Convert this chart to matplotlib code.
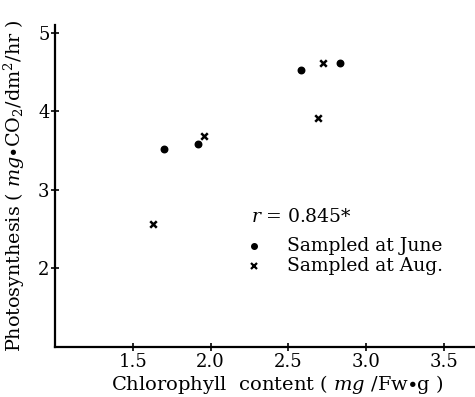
import matplotlib
matplotlib.use("Agg")
import matplotlib.pyplot as plt

# chlorophyll (mg/Fw g) vs photosynthesis (mg CO2/dm2/hr)
june_x = [1.70, 1.92, 2.58, 2.83]
june_y = [3.52, 3.59, 4.53, 4.61]
aug_x = [1.63, 1.96, 2.69, 2.72]
aug_y = [2.56, 3.69, 3.92, 4.62]

xticks = [1.5, 2.0, 2.5, 3.0, 3.5]
yticks = [2, 3, 4, 5]

plt.rcParams['font.family'] = ['DejaVu Serif']
plt.rcParams['mathtext.fontset'] = 'dejavuserif'

fig = plt.figure(figsize=(4.75, 3.97), dpi=100)
ax = fig.add_axes([0.116, 0.126, 0.884, 0.811])

ax.scatter(june_x, june_y, marker='o', s=22, color='black', zorder=3)
ax.scatter(aug_x, aug_y, marker='x', s=22, color='black', linewidths=1.8, zorder=3)

ax.set_xlim(1.0, 3.7)
ax.set_ylim(1.0, 5.1)
ax.set_xticks(xticks)
ax.set_xticklabels(["%.1f" % v for v in xticks])
ax.set_yticks(yticks)
ax.tick_params(direction='inout', length=6, width=1.2, labelsize=13, pad=1)
for s in ['top', 'right']:
    ax.spines[s].set_visible(False)
for s in ['left', 'bottom']:
    ax.spines[s].set_linewidth(1.6)

ax.set_xlabel(r"Chlorophyll  content ( $\mathit{mg}$ $/$Fw$\bullet$g )", fontsize=14)
ax.set_ylabel(r"Photosynthesis ( $\mathit{mg}$$\bullet$CO$_2$$/$dm$^2$$/$hr )", fontsize=13.8)
ax.xaxis.set_label_coords(0.53, -0.08)
ax.yaxis.set_label_coords(-0.066, 0.50)

# legend written as text
ax.text(2.26, 2.65, r"$\mathit{r}$ = 0.845*", fontsize=13.5, va='center')
ax.plot([2.28], [2.28], marker='o', ms=4, color='black', ls='none')
ax.text(2.49, 2.28, "Sampled at June", fontsize=13.5, va='center')
ax.plot([2.28], [2.03], marker='x', ms=5, mew=1.6, color='black', ls='none')
ax.text(2.49, 2.03, "Sampled at Aug.", fontsize=13.5, va='center')

fig.savefig("out.png", dpi=100)
